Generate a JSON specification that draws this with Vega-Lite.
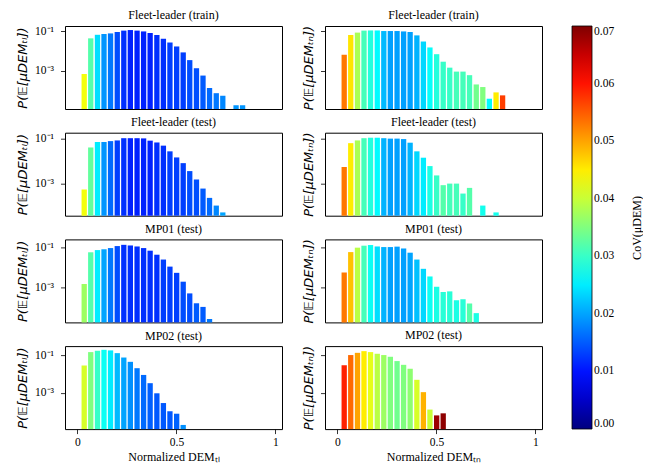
{
  "$schema": "https://vega.github.io/schema/vega-lite/v6.json",
  "description": "Histograms of expected mu_DEM, coloured by CoV, for four data sets and two DEM measures.",
  "padding": {"left": 16, "top": 8, "right": 0, "bottom": 0},
  "background": "white",
  "datasets": {
    "bars": [
      {"g":"a1","x":0.034,"p":6.76e-4,"cov":0.043},
      {"g":"a1","x":0.067,"p":0.0427,"cov":0.032},
      {"g":"a1","x":0.101,"p":0.0646,"cov":0.024},
      {"g":"a1","x":0.134,"p":0.0708,"cov":0.019},
      {"g":"a1","x":0.167,"p":0.0759,"cov":0.017},
      {"g":"a1","x":0.201,"p":0.0891,"cov":0.014},
      {"g":"a1","x":0.234,"p":0.105,"cov":0.012},
      {"g":"a1","x":0.267,"p":0.112,"cov":0.011},
      {"g":"a1","x":0.301,"p":0.105,"cov":0.011},
      {"g":"a1","x":0.334,"p":0.0955,"cov":0.011},
      {"g":"a1","x":0.367,"p":0.0794,"cov":0.011},
      {"g":"a1","x":0.401,"p":0.0631,"cov":0.012},
      {"g":"a1","x":0.434,"p":0.0407,"cov":0.012},
      {"g":"a1","x":0.467,"p":0.0263,"cov":0.013},
      {"g":"a1","x":0.501,"p":0.0166,"cov":0.013},
      {"g":"a1","x":0.534,"p":0.00832,"cov":0.013},
      {"g":"a1","x":0.567,"p":0.00339,"cov":0.014},
      {"g":"a1","x":0.601,"p":0.00132,"cov":0.014},
      {"g":"a1","x":0.634,"p":5.62e-4,"cov":0.015},
      {"g":"a1","x":0.667,"p":1.32e-4,"cov":0.016},
      {"g":"a1","x":0.701,"p":7.24e-5,"cov":0.017},
      {"g":"a1","x":0.734,"p":5.37e-5,"cov":0.018},
      {"g":"a1","x":0.801,"p":1.78e-5,"cov":0.019},
      {"g":"a1","x":0.834,"p":1.78e-5,"cov":0.019},

      {"g":"b1","x":0.034,"p":0.00631,"cov":0.053},
      {"g":"b1","x":0.067,"p":0.0631,"cov":0.0455},
      {"g":"b1","x":0.101,"p":0.0832,"cov":0.038},
      {"g":"b1","x":0.134,"p":0.105,"cov":0.031},
      {"g":"b1","x":0.167,"p":0.107,"cov":0.0286},
      {"g":"b1","x":0.201,"p":0.107,"cov":0.026},
      {"g":"b1","x":0.234,"p":0.100,"cov":0.0215},
      {"g":"b1","x":0.267,"p":0.100,"cov":0.0197},
      {"g":"b1","x":0.301,"p":0.100,"cov":0.0197},
      {"g":"b1","x":0.334,"p":0.0955,"cov":0.0197},
      {"g":"b1","x":0.367,"p":0.0891,"cov":0.0197},
      {"g":"b1","x":0.401,"p":0.0603,"cov":0.021},
      {"g":"b1","x":0.434,"p":0.0295,"cov":0.0236},
      {"g":"b1","x":0.467,"p":0.0148,"cov":0.0265},
      {"g":"b1","x":0.501,"p":0.00676,"cov":0.0286},
      {"g":"b1","x":0.534,"p":0.00282,"cov":0.030},
      {"g":"b1","x":0.567,"p":0.00141,"cov":0.030},
      {"g":"b1","x":0.601,"p":8.91e-4,"cov":0.031},
      {"g":"b1","x":0.634,"p":8.91e-4,"cov":0.031},
      {"g":"b1","x":0.667,"p":5.89e-4,"cov":0.031},
      {"g":"b1","x":0.701,"p":2.00e-4,"cov":0.034},
      {"g":"b1","x":0.734,"p":1.48e-4,"cov":0.035},
      {"g":"b1","x":0.767,"p":3.80e-5,"cov":0.026},
      {"g":"b1","x":0.801,"p":7.94e-5,"cov":0.045},
      {"g":"b1","x":0.834,"p":5.62e-5,"cov":0.057},

      {"g":"a2","x":0.034,"p":5.62e-4,"cov":0.043},
      {"g":"a2","x":0.067,"p":0.0398,"cov":0.033},
      {"g":"a2","x":0.101,"p":0.0692,"cov":0.025},
      {"g":"a2","x":0.134,"p":0.0692,"cov":0.019},
      {"g":"a2","x":0.167,"p":0.0759,"cov":0.016},
      {"g":"a2","x":0.201,"p":0.0813,"cov":0.013},
      {"g":"a2","x":0.234,"p":0.102,"cov":0.012},
      {"g":"a2","x":0.267,"p":0.102,"cov":0.011},
      {"g":"a2","x":0.301,"p":0.102,"cov":0.011},
      {"g":"a2","x":0.334,"p":0.100,"cov":0.011},
      {"g":"a2","x":0.367,"p":0.0794,"cov":0.011},
      {"g":"a2","x":0.401,"p":0.0661,"cov":0.012},
      {"g":"a2","x":0.434,"p":0.0479,"cov":0.012},
      {"g":"a2","x":0.467,"p":0.0269,"cov":0.013},
      {"g":"a2","x":0.501,"p":0.0145,"cov":0.013},
      {"g":"a2","x":0.534,"p":0.00813,"cov":0.013},
      {"g":"a2","x":0.567,"p":0.00363,"cov":0.014},
      {"g":"a2","x":0.601,"p":0.00155,"cov":0.014},
      {"g":"a2","x":0.634,"p":6.17e-4,"cov":0.015},
      {"g":"a2","x":0.667,"p":2.40e-4,"cov":0.016},
      {"g":"a2","x":0.701,"p":1.10e-4,"cov":0.018},
      {"g":"a2","x":0.734,"p":5.50e-5,"cov":0.020},

      {"g":"b2","x":0.034,"p":0.00550,"cov":0.053},
      {"g":"b2","x":0.067,"p":0.0617,"cov":0.045},
      {"g":"b2","x":0.101,"p":0.0813,"cov":0.038},
      {"g":"b2","x":0.134,"p":0.102,"cov":0.031},
      {"g":"b2","x":0.167,"p":0.107,"cov":0.0286},
      {"g":"b2","x":0.201,"p":0.107,"cov":0.026},
      {"g":"b2","x":0.234,"p":0.102,"cov":0.021},
      {"g":"b2","x":0.267,"p":0.0977,"cov":0.0197},
      {"g":"b2","x":0.301,"p":0.0977,"cov":0.0197},
      {"g":"b2","x":0.334,"p":0.0933,"cov":0.0197},
      {"g":"b2","x":0.367,"p":0.0646,"cov":0.021},
      {"g":"b2","x":0.401,"p":0.0269,"cov":0.0236},
      {"g":"b2","x":0.434,"p":0.0141,"cov":0.025},
      {"g":"b2","x":0.467,"p":0.00603,"cov":0.028},
      {"g":"b2","x":0.501,"p":0.00234,"cov":0.030},
      {"g":"b2","x":0.534,"p":8.71e-4,"cov":0.032},
      {"g":"b2","x":0.567,"p":0.00102,"cov":0.031},
      {"g":"b2","x":0.601,"p":0.00102,"cov":0.031},
      {"g":"b2","x":0.634,"p":3.72e-4,"cov":0.030},
      {"g":"b2","x":0.667,"p":6.61e-4,"cov":0.032},
      {"g":"b2","x":0.734,"p":1.10e-4,"cov":0.0275},
      {"g":"b2","x":0.801,"p":5.50e-5,"cov":0.0275},

      {"g":"a3","x":0.034,"p":0.00145,"cov":0.037},
      {"g":"a3","x":0.067,"p":0.0550,"cov":0.032},
      {"g":"a3","x":0.101,"p":0.0708,"cov":0.025},
      {"g":"a3","x":0.134,"p":0.0776,"cov":0.020},
      {"g":"a3","x":0.167,"p":0.0891,"cov":0.017},
      {"g":"a3","x":0.201,"p":0.112,"cov":0.014},
      {"g":"a3","x":0.234,"p":0.129,"cov":0.012},
      {"g":"a3","x":0.267,"p":0.120,"cov":0.012},
      {"g":"a3","x":0.301,"p":0.107,"cov":0.012},
      {"g":"a3","x":0.334,"p":0.0891,"cov":0.012},
      {"g":"a3","x":0.367,"p":0.0661,"cov":0.012},
      {"g":"a3","x":0.401,"p":0.0417,"cov":0.012},
      {"g":"a3","x":0.434,"p":0.0240,"cov":0.013},
      {"g":"a3","x":0.467,"p":0.0107,"cov":0.013},
      {"g":"a3","x":0.501,"p":0.00525,"cov":0.013},
      {"g":"a3","x":0.534,"p":0.00191,"cov":0.014},
      {"g":"a3","x":0.567,"p":5.01e-4,"cov":0.014},
      {"g":"a3","x":0.601,"p":1.62e-4,"cov":0.015},
      {"g":"a3","x":0.634,"p":1.07e-4,"cov":0.015},
      {"g":"a3","x":0.667,"p":2.69e-5,"cov":0.017},

      {"g":"b3","x":0.034,"p":0.00550,"cov":0.053},
      {"g":"b3","x":0.067,"p":0.0562,"cov":0.048},
      {"g":"b3","x":0.101,"p":0.0933,"cov":0.039},
      {"g":"b3","x":0.134,"p":0.117,"cov":0.031},
      {"g":"b3","x":0.167,"p":0.126,"cov":0.027},
      {"g":"b3","x":0.201,"p":0.107,"cov":0.024},
      {"g":"b3","x":0.234,"p":0.100,"cov":0.021},
      {"g":"b3","x":0.267,"p":0.100,"cov":0.0197},
      {"g":"b3","x":0.301,"p":0.105,"cov":0.0197},
      {"g":"b3","x":0.334,"p":0.0851,"cov":0.0197},
      {"g":"b3","x":0.367,"p":0.0525,"cov":0.020},
      {"g":"b3","x":0.401,"p":0.0240,"cov":0.022},
      {"g":"b3","x":0.434,"p":0.00832,"cov":0.0236},
      {"g":"b3","x":0.467,"p":0.00347,"cov":0.027},
      {"g":"b3","x":0.501,"p":0.00107,"cov":0.028},
      {"g":"b3","x":0.534,"p":5.89e-4,"cov":0.029},
      {"g":"b3","x":0.567,"p":6.31e-4,"cov":0.029},
      {"g":"b3","x":0.601,"p":2.29e-4,"cov":0.028},
      {"g":"b3","x":0.634,"p":2.57e-4,"cov":0.029},
      {"g":"b3","x":0.667,"p":1.58e-4,"cov":0.032},
      {"g":"b3","x":0.701,"p":5.25e-5,"cov":0.028},

      {"g":"a4","x":0.034,"p":0.0288,"cov":0.041},
      {"g":"a4","x":0.067,"p":0.151,"cov":0.035},
      {"g":"a4","x":0.101,"p":0.178,"cov":0.030},
      {"g":"a4","x":0.134,"p":0.200,"cov":0.027},
      {"g":"a4","x":0.167,"p":0.186,"cov":0.025},
      {"g":"a4","x":0.201,"p":0.133,"cov":0.0215},
      {"g":"a4","x":0.234,"p":0.0776,"cov":0.020},
      {"g":"a4","x":0.267,"p":0.0457,"cov":0.0186},
      {"g":"a4","x":0.301,"p":0.0209,"cov":0.017},
      {"g":"a4","x":0.334,"p":0.00912,"cov":0.016},
      {"g":"a4","x":0.367,"p":0.00331,"cov":0.0153},
      {"g":"a4","x":0.401,"p":9.55e-4,"cov":0.0148},
      {"g":"a4","x":0.434,"p":2.88e-4,"cov":0.0148},
      {"g":"a4","x":0.467,"p":1.05e-4,"cov":0.0148},
      {"g":"a4","x":0.501,"p":7.76e-5,"cov":0.0155},
      {"g":"a4","x":0.534,"p":1.95e-5,"cov":0.0186},

      {"g":"b4","x":0.034,"p":0.0302,"cov":0.059},
      {"g":"b4","x":0.067,"p":0.105,"cov":0.054},
      {"g":"b4","x":0.101,"p":0.138,"cov":0.050},
      {"g":"b4","x":0.134,"p":0.170,"cov":0.045},
      {"g":"b4","x":0.167,"p":0.151,"cov":0.042},
      {"g":"b4","x":0.201,"p":0.123,"cov":0.039},
      {"g":"b4","x":0.234,"p":0.105,"cov":0.037},
      {"g":"b4","x":0.267,"p":0.0851,"cov":0.035},
      {"g":"b4","x":0.301,"p":0.0501,"cov":0.034},
      {"g":"b4","x":0.334,"p":0.0316,"cov":0.035},
      {"g":"b4","x":0.367,"p":0.0195,"cov":0.036},
      {"g":"b4","x":0.401,"p":0.00501,"cov":0.041},
      {"g":"b4","x":0.434,"p":0.00110,"cov":0.049},
      {"g":"b4","x":0.467,"p":1.29e-4,"cov":0.040},
      {"g":"b4","x":0.501,"p":6.31e-5,"cov":0.068},
      {"g":"b4","x":0.534,"p":8.13e-5,"cov":0.069}
    ]
  },
  "data": {"name": "bars"},
  "columns": 2,
  "bounds": "flush",
  "spacing": {"row": 23.7, "column": 43},
  "concat": [
    {
      "title": "Fleet-leader (train)",
      "width": 217, "height": 83,
      "transform": [{"filter": "datum.g === 'a1'"}],
      "mark": {"type": "bar", "width": 5.3},
      "encoding": {
        "x": {"field": "x", "type": "quantitative", "scale": {"domain": [-0.063, 1.033], "nice": false, "zero": false, "padding": 0}, "axis": null},
        "y": {"field": "p", "type": "quantitative", "stack": null, "scale": {"type": "log", "domain": [1.15e-5, 0.1795], "nice": false}, "axis": {"values": [0.1, 0.001], "labelExpr": "datum.value > 0.01 ? '10⁻¹' : '10⁻³'", "title": "P(𝔼[μDEMₜₗ])"}},
        "color": {"field": "cov", "type": "quantitative", "title": "CoV(μDEM)", "scale": {"domain": [0, 0.00875, 0.02625, 0.04375, 0.06125, 0.07], "range": ["#00007f", "#0000ff", "#00ffff", "#ffff00", "#ff0000", "#7f0000"], "interpolate": "rgb"}, "legend": {"values": [0, 0.01, 0.02, 0.03, 0.04, 0.05, 0.06, 0.07], "format": ".2f"}}
      }
    },
    {
      "title": "Fleet-leader (train)",
      "width": 217, "height": 83,
      "transform": [{"filter": "datum.g === 'b1'"}],
      "mark": {"type": "bar", "width": 5.3},
      "encoding": {
        "x": {"field": "x", "type": "quantitative", "scale": {"domain": [-0.063, 1.033], "nice": false, "zero": false, "padding": 0}, "axis": null},
        "y": {"field": "p", "type": "quantitative", "stack": null, "scale": {"type": "log", "domain": [1.15e-5, 0.1795], "nice": false}, "axis": {"values": [0.1, 0.001], "labels": false, "titlePadding": 4.5, "title": "P(𝔼[μDEMₜₙ])"}},
        "color": {"field": "cov", "type": "quantitative", "title": "CoV(μDEM)", "scale": {"domain": [0, 0.00875, 0.02625, 0.04375, 0.06125, 0.07], "range": ["#00007f", "#0000ff", "#00ffff", "#ffff00", "#ff0000", "#7f0000"], "interpolate": "rgb"}, "legend": {"values": [0, 0.01, 0.02, 0.03, 0.04, 0.05, 0.06, 0.07], "format": ".2f"}}
      }
    },
    {
      "title": "Fleet-leader (test)",
      "width": 217, "height": 83,
      "transform": [{"filter": "datum.g === 'a2'"}],
      "mark": {"type": "bar", "width": 5.3},
      "encoding": {
        "x": {"field": "x", "type": "quantitative", "scale": {"domain": [-0.063, 1.033], "nice": false, "zero": false, "padding": 0}, "axis": null},
        "y": {"field": "p", "type": "quantitative", "stack": null, "scale": {"type": "log", "domain": [3.94e-5, 0.178], "nice": false}, "axis": {"values": [0.1, 0.001], "labelExpr": "datum.value > 0.01 ? '10⁻¹' : '10⁻³'", "title": "P(𝔼[μDEMₜₗ])"}},
        "color": {"field": "cov", "type": "quantitative", "title": "CoV(μDEM)", "scale": {"domain": [0, 0.00875, 0.02625, 0.04375, 0.06125, 0.07], "range": ["#00007f", "#0000ff", "#00ffff", "#ffff00", "#ff0000", "#7f0000"], "interpolate": "rgb"}, "legend": {"values": [0, 0.01, 0.02, 0.03, 0.04, 0.05, 0.06, 0.07], "format": ".2f"}}
      }
    },
    {
      "title": "Fleet-leader (test)",
      "width": 217, "height": 83,
      "transform": [{"filter": "datum.g === 'b2'"}],
      "mark": {"type": "bar", "width": 5.3},
      "encoding": {
        "x": {"field": "x", "type": "quantitative", "scale": {"domain": [-0.063, 1.033], "nice": false, "zero": false, "padding": 0}, "axis": null},
        "y": {"field": "p", "type": "quantitative", "stack": null, "scale": {"type": "log", "domain": [3.94e-5, 0.178], "nice": false}, "axis": {"values": [0.1, 0.001], "labels": false, "titlePadding": 4.5, "title": "P(𝔼[μDEMₜₙ])"}},
        "color": {"field": "cov", "type": "quantitative", "title": "CoV(μDEM)", "scale": {"domain": [0, 0.00875, 0.02625, 0.04375, 0.06125, 0.07], "range": ["#00007f", "#0000ff", "#00ffff", "#ffff00", "#ff0000", "#7f0000"], "interpolate": "rgb"}, "legend": {"values": [0, 0.01, 0.02, 0.03, 0.04, 0.05, 0.06, 0.07], "format": ".2f"}}
      }
    },
    {
      "title": "MP01 (test)",
      "width": 217, "height": 83,
      "transform": [{"filter": "datum.g === 'a3'"}],
      "mark": {"type": "bar", "width": 5.3},
      "encoding": {
        "x": {"field": "x", "type": "quantitative", "scale": {"domain": [-0.063, 1.033], "nice": false, "zero": false, "padding": 0}, "axis": null},
        "y": {"field": "p", "type": "quantitative", "stack": null, "scale": {"type": "log", "domain": [1.82e-5, 0.24], "nice": false}, "axis": {"values": [0.1, 0.001], "labelExpr": "datum.value > 0.01 ? '10⁻¹' : '10⁻³'", "title": "P(𝔼[μDEMₜₗ])"}},
        "color": {"field": "cov", "type": "quantitative", "title": "CoV(μDEM)", "scale": {"domain": [0, 0.00875, 0.02625, 0.04375, 0.06125, 0.07], "range": ["#00007f", "#0000ff", "#00ffff", "#ffff00", "#ff0000", "#7f0000"], "interpolate": "rgb"}, "legend": {"values": [0, 0.01, 0.02, 0.03, 0.04, 0.05, 0.06, 0.07], "format": ".2f"}}
      }
    },
    {
      "title": "MP01 (test)",
      "width": 217, "height": 83,
      "transform": [{"filter": "datum.g === 'b3'"}],
      "mark": {"type": "bar", "width": 5.3},
      "encoding": {
        "x": {"field": "x", "type": "quantitative", "scale": {"domain": [-0.063, 1.033], "nice": false, "zero": false, "padding": 0}, "axis": null},
        "y": {"field": "p", "type": "quantitative", "stack": null, "scale": {"type": "log", "domain": [1.82e-5, 0.24], "nice": false}, "axis": {"values": [0.1, 0.001], "labels": false, "titlePadding": 4.5, "title": "P(𝔼[μDEMₜₙ])"}},
        "color": {"field": "cov", "type": "quantitative", "title": "CoV(μDEM)", "scale": {"domain": [0, 0.00875, 0.02625, 0.04375, 0.06125, 0.07], "range": ["#00007f", "#0000ff", "#00ffff", "#ffff00", "#ff0000", "#7f0000"], "interpolate": "rgb"}, "legend": {"values": [0, 0.01, 0.02, 0.03, 0.04, 0.05, 0.06, 0.07], "format": ".2f"}}
      }
    },
    {
      "title": "MP02 (test)",
      "width": 217, "height": 83,
      "transform": [{"filter": "datum.g === 'a4'"}],
      "mark": {"type": "bar", "width": 5.3},
      "encoding": {
        "x": {"field": "x", "type": "quantitative", "scale": {"domain": [-0.063, 1.033], "nice": false, "zero": false, "padding": 0}, "axis": {"values": [0, 0.5, 1], "format": "~g", "title": "Normalized DEMₜₗ"}},
        "y": {"field": "p", "type": "quantitative", "stack": null, "scale": {"type": "log", "domain": [1.17e-5, 0.316], "nice": false}, "axis": {"values": [0.1, 0.001], "labelExpr": "datum.value > 0.01 ? '10⁻¹' : '10⁻³'", "title": "P(𝔼[μDEMₜₗ])"}},
        "color": {"field": "cov", "type": "quantitative", "title": "CoV(μDEM)", "scale": {"domain": [0, 0.00875, 0.02625, 0.04375, 0.06125, 0.07], "range": ["#00007f", "#0000ff", "#00ffff", "#ffff00", "#ff0000", "#7f0000"], "interpolate": "rgb"}, "legend": {"values": [0, 0.01, 0.02, 0.03, 0.04, 0.05, 0.06, 0.07], "format": ".2f"}}
      }
    },
    {
      "title": "MP02 (test)",
      "width": 217, "height": 83,
      "transform": [{"filter": "datum.g === 'b4'"}],
      "mark": {"type": "bar", "width": 5.3},
      "encoding": {
        "x": {"field": "x", "type": "quantitative", "scale": {"domain": [-0.063, 1.033], "nice": false, "zero": false, "padding": 0}, "axis": {"values": [0, 0.5, 1], "format": "~g", "title": "Normalized DEMₜₙ"}},
        "y": {"field": "p", "type": "quantitative", "stack": null, "scale": {"type": "log", "domain": [1.17e-5, 0.316], "nice": false}, "axis": {"values": [0.1, 0.001], "labels": false, "titlePadding": 4.5, "title": "P(𝔼[μDEMₜₙ])"}},
        "color": {"field": "cov", "type": "quantitative", "title": "CoV(μDEM)", "scale": {"domain": [0, 0.00875, 0.02625, 0.04375, 0.06125, 0.07], "range": ["#00007f", "#0000ff", "#00ffff", "#ffff00", "#ff0000", "#7f0000"], "interpolate": "rgb"}, "legend": {"values": [0, 0.01, 0.02, 0.03, 0.04, 0.05, 0.06, 0.07], "format": ".2f", "encode": {"title": {"update": {"angle": {"value": -90}, "dy": {"value": 20}}}}}}
      }
    }
  ],
  "resolve": {"scale": {"color": "shared"}},
  "config": {
    "font": "Liberation Serif",
    "view": {"stroke": "black", "strokeWidth": 1},
    "title": {"font": "Liberation Serif", "fontSize": 12, "fontWeight": "normal", "color": "black", "offset": 3, "frame": "group"},
    "axis": {"domain": false, "grid": false, "tickColor": "black", "tickSize": 4.5, "tickWidth": 0.8, "labelFont": "Liberation Serif", "labelFontSize": 11.5, "labelColor": "black", "labelPadding": 7, "titleColor": "black"},
    "axisY": {"titleFont": "DejaVu Sans", "titleFontStyle": "italic", "titleFontWeight": "normal", "titleFontSize": 13, "titlePadding": 5},
    "axisX": {"titleFont": "Liberation Serif", "titleFontWeight": "normal", "titleFontSize": 12, "titlePadding": 3, "labelPadding": 3},
    "legend": {
      "orient": "none", "legendX": 507, "legendY": 0,
      "gradientLength": 403, "gradientThickness": 20,
      "gradientStrokeColor": "black", "gradientStrokeWidth": 0.8,
      "labelFont": "Liberation Serif", "labelFontSize": 11.5, "labelColor": "black", "labelOffset": 10,
      "titleFont": "Liberation Serif", "titleFontSize": 12, "titleFontWeight": "normal", "titleColor": "black",
      "titleOrient": "right", "titleAnchor": "middle", "titlePadding": 10
    }
  }
}
